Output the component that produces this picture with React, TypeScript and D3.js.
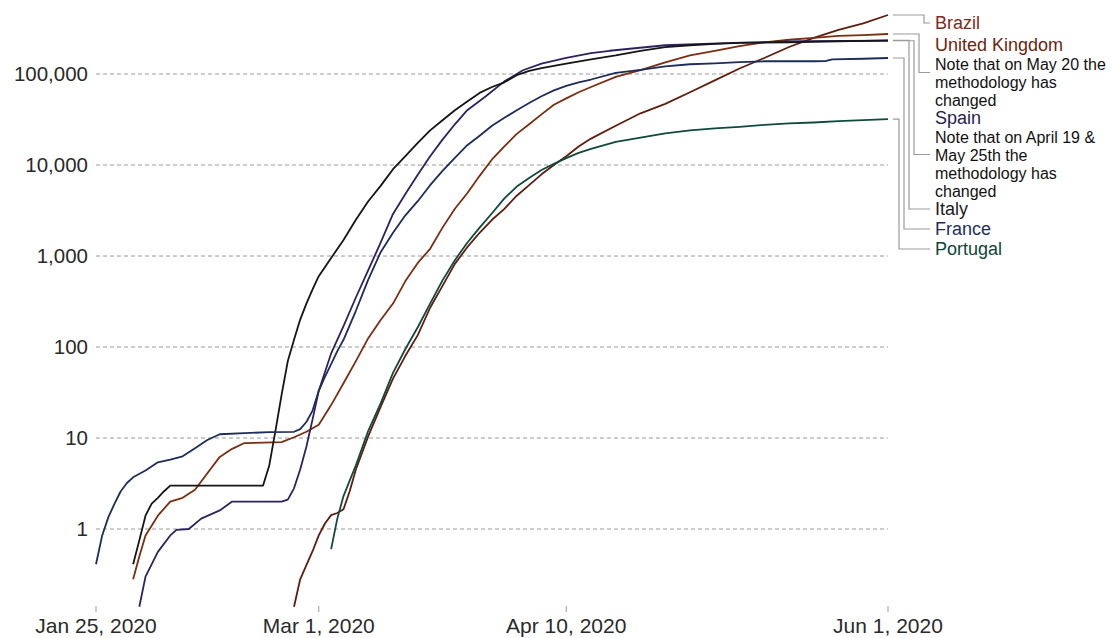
import React from "react";
import * as d3 from "d3";

type Pt = [string, number];

const xTickDates = ["2020-01-25", "2020-03-01", "2020-04-10", "2020-06-01"];
const xTickLabels = ["Jan 25, 2020", "Mar 1, 2020", "Apr 10, 2020", "Jun 1, 2020"];
const yTickValues = [1, 10, 100, 1000, 10000, 100000];

const france: Pt[] = [
  ["2020-01-25", 0.41], ["2020-01-26", 0.85], ["2020-01-27", 1.35], ["2020-01-28", 1.9],
  ["2020-01-29", 2.6], ["2020-01-30", 3.2], ["2020-01-31", 3.7], ["2020-02-02", 4.4],
  ["2020-02-04", 5.4], ["2020-02-06", 5.8], ["2020-02-08", 6.3], ["2020-02-10", 7.7],
  ["2020-02-12", 9.5], ["2020-02-14", 11], ["2020-02-18", 11.3], ["2020-02-22", 11.6],
  ["2020-02-26", 11.7], ["2020-02-27", 12.5], ["2020-02-28", 15], ["2020-02-29", 20],
  ["2020-03-01", 33], ["2020-03-02", 47], ["2020-03-03", 65], ["2020-03-04", 90],
  ["2020-03-05", 120], ["2020-03-07", 250], ["2020-03-09", 550], ["2020-03-11", 1100],
  ["2020-03-13", 1800], ["2020-03-15", 2800], ["2020-03-17", 4000], ["2020-03-19", 6000],
  ["2020-03-21", 8600], ["2020-03-23", 12000], ["2020-03-25", 16500], ["2020-03-27", 21000],
  ["2020-03-29", 27000], ["2020-03-31", 33000], ["2020-04-02", 40000], ["2020-04-04", 48000],
  ["2020-04-06", 57000], ["2020-04-08", 66000], ["2020-04-10", 74000], ["2020-04-12", 81000],
  ["2020-04-14", 87000], ["2020-04-18", 103000], ["2020-04-22", 111000], ["2020-04-26", 121000],
  ["2020-04-30", 128000], ["2020-05-04", 131000], ["2020-05-08", 135000], ["2020-05-12", 138000],
  ["2020-05-16", 138000], ["2020-05-20", 138000], ["2020-05-22", 139000], ["2020-05-23", 145000],
  ["2020-05-28", 147000], ["2020-06-01", 150000],
];

const italy: Pt[] = [
  ["2020-01-31", 0.41], ["2020-02-01", 0.75], ["2020-02-02", 1.4], ["2020-02-03", 1.9],
  ["2020-02-04", 2.2], ["2020-02-05", 2.6], ["2020-02-06", 3], ["2020-02-21", 3],
  ["2020-02-22", 5], ["2020-02-23", 12], ["2020-02-24", 30], ["2020-02-25", 70],
  ["2020-02-26", 120], ["2020-02-27", 200], ["2020-02-28", 300], ["2020-02-29", 430],
  ["2020-03-01", 600], ["2020-03-03", 950], ["2020-03-05", 1500], ["2020-03-07", 2500],
  ["2020-03-09", 4000], ["2020-03-11", 5900], ["2020-03-13", 9000], ["2020-03-15", 12500],
  ["2020-03-17", 17500], ["2020-03-19", 24000], ["2020-03-21", 31000], ["2020-03-23", 40000],
  ["2020-03-25", 50000], ["2020-03-27", 62000], ["2020-03-29", 72000], ["2020-03-31", 81000],
  ["2020-04-02", 97000], ["2020-04-04", 108000], ["2020-04-06", 116000], ["2020-04-10", 130000],
  ["2020-04-14", 145000], ["2020-04-18", 160000], ["2020-04-22", 180000], ["2020-04-26", 197000],
  ["2020-04-30", 207000], ["2020-05-04", 214000], ["2020-05-08", 220000], ["2020-05-16", 223000],
  ["2020-05-24", 228000], ["2020-06-01", 234000],
];

const spain: Pt[] = [
  ["2020-02-01", 0.14], ["2020-02-02", 0.3], ["2020-02-04", 0.56], ["2020-02-06", 0.85],
  ["2020-02-07", 0.98], ["2020-02-09", 1.0], ["2020-02-11", 1.3], ["2020-02-14", 1.6],
  ["2020-02-16", 2.0], ["2020-02-24", 2.0], ["2020-02-25", 2.1], ["2020-02-26", 2.8],
  ["2020-02-27", 4.5], ["2020-02-28", 8], ["2020-02-29", 16], ["2020-03-01", 33],
  ["2020-03-03", 85], ["2020-03-05", 170], ["2020-03-07", 350], ["2020-03-09", 700],
  ["2020-03-11", 1400], ["2020-03-13", 2900], ["2020-03-15", 4800], ["2020-03-17", 7800],
  ["2020-03-19", 12500], ["2020-03-21", 19000], ["2020-03-23", 28000], ["2020-03-25", 40000],
  ["2020-03-28", 57000], ["2020-03-31", 83000], ["2020-04-03", 110000], ["2020-04-06", 130000],
  ["2020-04-10", 150000], ["2020-04-14", 170000], ["2020-04-17", 180000], ["2020-04-26", 207000],
  ["2020-05-07", 220000], ["2020-05-18", 230000], ["2020-06-01", 232000],
];

const uk: Pt[] = [
  ["2020-01-31", 0.28], ["2020-02-01", 0.5], ["2020-02-02", 0.85], ["2020-02-04", 1.4],
  ["2020-02-06", 2.0], ["2020-02-08", 2.2], ["2020-02-10", 2.7], ["2020-02-12", 4.1],
  ["2020-02-14", 6.2], ["2020-02-16", 7.6], ["2020-02-18", 8.8], ["2020-02-24", 9],
  ["2020-02-26", 10.2], ["2020-02-28", 11.7], ["2020-03-01", 14], ["2020-03-03", 23],
  ["2020-03-05", 40], ["2020-03-07", 70], ["2020-03-09", 125], ["2020-03-11", 198],
  ["2020-03-13", 300], ["2020-03-15", 530], ["2020-03-17", 840], ["2020-03-19", 1200],
  ["2020-03-21", 2050], ["2020-03-23", 3300], ["2020-03-25", 4900], ["2020-03-27", 7600],
  ["2020-03-29", 11500], ["2020-03-31", 16000], ["2020-04-02", 22000], ["2020-04-04", 28000],
  ["2020-04-06", 36000], ["2020-04-08", 46000], ["2020-04-10", 54000], ["2020-04-12", 63000],
  ["2020-04-14", 72000], ["2020-04-18", 93000], ["2020-04-22", 110000], ["2020-04-26", 134000],
  ["2020-04-30", 160000], ["2020-05-04", 180000], ["2020-05-08", 202000], ["2020-05-12", 223000],
  ["2020-05-16", 238000], ["2020-05-20", 250000], ["2020-05-24", 262000], ["2020-05-28", 268000],
  ["2020-06-01", 275000],
];

const brazil: Pt[] = [
  ["2020-02-26", 0.14], ["2020-02-27", 0.28], ["2020-02-28", 0.4], ["2020-02-29", 0.57],
  ["2020-03-01", 0.85], ["2020-03-02", 1.15], ["2020-03-03", 1.42], ["2020-03-04", 1.5],
  ["2020-03-05", 1.65], ["2020-03-06", 2.6], ["2020-03-07", 4.5], ["2020-03-09", 10.5],
  ["2020-03-11", 22], ["2020-03-13", 45], ["2020-03-15", 80], ["2020-03-17", 135],
  ["2020-03-19", 270], ["2020-03-21", 470], ["2020-03-23", 820], ["2020-03-25", 1250],
  ["2020-03-27", 1800], ["2020-03-29", 2500], ["2020-03-31", 3300], ["2020-04-02", 4600],
  ["2020-04-04", 6000], ["2020-04-06", 7900], ["2020-04-08", 10000], ["2020-04-10", 12500],
  ["2020-04-12", 16000], ["2020-04-14", 19500], ["2020-04-18", 27000], ["2020-04-22", 37000],
  ["2020-04-26", 47000], ["2020-04-30", 63000], ["2020-05-04", 85000], ["2020-05-08", 115000],
  ["2020-05-12", 150000], ["2020-05-16", 198000], ["2020-05-20", 250000], ["2020-05-24", 305000],
  ["2020-05-28", 360000], ["2020-06-01", 445000],
];

const portugal: Pt[] = [
  ["2020-03-03", 0.6], ["2020-03-04", 1.3], ["2020-03-05", 2.3], ["2020-03-06", 3.4],
  ["2020-03-07", 5], ["2020-03-09", 12], ["2020-03-11", 24], ["2020-03-13", 52],
  ["2020-03-15", 95], ["2020-03-17", 165], ["2020-03-19", 300], ["2020-03-21", 540],
  ["2020-03-23", 900], ["2020-03-25", 1400], ["2020-03-27", 2050], ["2020-03-29", 2950],
  ["2020-03-31", 4300], ["2020-04-02", 5800], ["2020-04-04", 7200], ["2020-04-06", 8800],
  ["2020-04-08", 10300], ["2020-04-10", 11900], ["2020-04-12", 13600], ["2020-04-14", 15000],
  ["2020-04-18", 18000], ["2020-04-22", 20000], ["2020-04-26", 22300], ["2020-04-30", 24000],
  ["2020-05-04", 25200], ["2020-05-08", 26300], ["2020-05-12", 27600], ["2020-05-16", 28600],
  ["2020-05-20", 29300], ["2020-05-24", 30300], ["2020-05-28", 31200], ["2020-06-01", 32000],
];

const seriesNames = ["Brazil", "United Kingdom", "Spain", "Italy", "France", "Portugal"];
const seriesData = [brazil, uk, spain, italy, france, portugal];
const lineColors = ["#5e1d0e", "#7a2e10", "#2f2160", "#151515", "#1d2c5a", "#0f4a3c"];
const labelColors = ["#7f2a1a", "#6b1f0e", "#27224f", "#1a1a1a", "#1f2f5e", "#0e4536"];
const seriesNotes = [
  [],
  ["Note that on May 20 the", "methodology has", "changed"],
  ["Note that on April 19 &", "May 25th the", "methodology has", "changed"],
  [],
  [],
  [],
];

const W = 1111;
const H = 638;
const parse = d3.timeParse("%Y-%m-%d");

export default function App() {
  const x = d3
    .scaleTime()
    .domain([parse("2020-01-25")!, parse("2020-06-01")!])
    .range([96, 888]);
  const y = d3.scaleLog().domain([1, 100000]).range([529, 74]);

  const line = d3
    .line<Pt>()
    .x((d) => x(parse(d[0])!))
    .y((d) => y(d[1]));

  const labelX = 935;
  const nameLH = 20;
  const noteLH = 18;
  const labelTops = [13, 35, 108, 199, 219, 239];
  const vxs = [924, 919, 914, 909, 904, 899];

  const font = "'Liberation Sans', Arial, sans-serif";

  return (
    <svg
      width={W}
      height={H}
      style={{ position: "absolute", left: 0, top: 0, background: "#fff" }}
      fontFamily={font}
    >
      {yTickValues.map((v) => (
        <line
          key={"g" + v}
          x1={96}
          x2={888}
          y1={y(v)}
          y2={y(v)}
          stroke="#9a9a9a"
          strokeWidth={1}
          strokeDasharray="4,3"
        />
      ))}
      {yTickValues.map((v) => (
        <text
          key={"yl" + v}
          x={88}
          y={y(v)}
          dy="0.35em"
          textAnchor="end"
          fontSize={20.5}
          fill="#2a2a2a"
        >
          {d3.format(",")(v)}
        </text>
      ))}
      {xTickDates.map((d, i) => (
        <g key={"xt" + d}>
          <line
            x1={x(parse(d)!)}
            x2={x(parse(d)!)}
            y1={606}
            y2={612}
            stroke="#999"
            strokeWidth={1}
          />
          <text
            x={x(parse(d)!)}
            y={633}
            textAnchor="middle"
            fontSize={21}
            fill="#2a2a2a"
          >
            {xTickLabels[i]}
          </text>
        </g>
      ))}
      {seriesData.map((data, i) => (
        <path
          key={"l" + i}
          d={line(data) || ""}
          fill="none"
          stroke={lineColors[i]}
          strokeWidth={1.8}
          strokeLinejoin="round"
        />
      ))}
      {seriesData.map((data, i) => {
        const last = data[data.length - 1];
        const ey = y(last[1]);
        const top = labelTops[i];
        const nLines = 1 + seriesNotes[i].length;
        const firstCenter = top + nameLH / 2;
        const lastCenter =
          seriesNotes[i].length > 0
            ? top + nameLH + (seriesNotes[i].length - 1) * noteLH + noteLH / 2
            : firstCenter;
        const cy = nLines > 1 ? (firstCenter + lastCenter) / 2 : firstCenter;
        const vx = vxs[i];
        return (
          <g key={"lab" + i}>
            <path
              d={`M893,${ey}H${vx}V${cy}H930`}
              fill="none"
              stroke="#9a9a9a"
              strokeWidth={1.2}
            />
            <text
              x={labelX}
              y={firstCenter}
              dy="0.35em"
              fontSize={18}
              fill={labelColors[i]}
            >
              {seriesNames[i]}
            </text>
            {seriesNotes[i].map((t, j) => (
              <text
                key={j}
                x={labelX}
                y={top + nameLH + j * noteLH + noteLH / 2}
                dy="0.35em"
                fontSize={16}
                fill="#111"
              >
                {t}
              </text>
            ))}
          </g>
        );
      })}
    </svg>
  );
}
